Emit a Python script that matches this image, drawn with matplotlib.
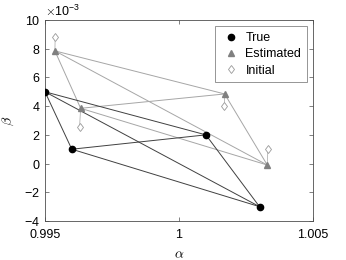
import itertools
import matplotlib
matplotlib.use("Agg")
import matplotlib.pyplot as plt
from matplotlib.ticker import ScalarFormatter, MultipleLocator

plt.rcParams['font.family'] = ['Liberation Sans', 'DejaVu Sans']
plt.rcParams['axes.unicode_minus'] = False
plt.rcParams['mathtext.fontset'] = 'cm'

true_alpha = [0.995, 0.996, 1.001, 1.003]
true_beta = [5.0e-3, 1.0e-3, 2.0e-3, -3.0e-3]
est_alpha = [0.99537, 0.99633, 1.0017, 1.00329]
est_beta = [7.85e-3, 3.85e-3, 4.85e-3, -0.1e-3]
init_alpha = [0.99538, 0.99629, 1.00169, 1.00331]
init_beta = [8.83e-3, 2.57e-3, 4.0e-3, 1.0e-3]

fig = plt.figure(figsize=(3.46, 2.6), dpi=100)
ax = fig.add_axes([0.130, 0.15, 0.775, 0.773])

# links between initial and estimated
for xa, ya, xb, yb in zip(init_alpha, init_beta, est_alpha, est_beta):
    ax.plot([xa, xb], [ya, yb], color='0.7', lw=0.6, zorder=1)

# complete graph of estimated points
for i, j in itertools.combinations(range(len(est_alpha)), 2):
    ax.plot([est_alpha[i], est_alpha[j]], [est_beta[i], est_beta[j]],
            color='0.65', lw=0.7, zorder=2)
# complete graph of true points
for i, j in itertools.combinations(range(len(true_alpha)), 2):
    ax.plot([true_alpha[i], true_alpha[j]], [true_beta[i], true_beta[j]],
            color='0.25', lw=0.7, zorder=3)

ax.plot(true_alpha, true_beta, 'o', color='black', ms=4.5, ls='none',
        label='True', zorder=5)
ax.plot(est_alpha, est_beta, '^', color='0.5', mec='0.5', ms=4.5, ls='none',
        label='Estimated', zorder=4)
ax.plot(init_alpha, init_beta, 'd', mfc='white', mec='0.6', mew=0.6, ms=4.5,
        ls='none', label='Initial', zorder=4)

ax.set_xlim(0.995, 1.005)
ax.set_ylim(-4e-3, 10e-3)
ax.xaxis.set_major_locator(MultipleLocator(0.005))
ax.yaxis.set_major_locator(MultipleLocator(2e-3))
ax.xaxis.set_major_formatter(plt.FuncFormatter(lambda v, p: f"{v:g}"))
fmt = ScalarFormatter(useMathText=True)
fmt.set_powerlimits((-3, -3))
ax.yaxis.set_major_formatter(fmt)
ax.yaxis.get_offset_text().set_fontsize(9)

ax.tick_params(direction='in', top=True, right=True, labelsize=9,
               length=3, width=0.5, color='0.3')
ax.tick_params(axis='x', pad=6)
for s in ax.spines.values():
    s.set_linewidth(0.6)
    s.set_color('0.3')

ax.set_xlabel(r'$\alpha$', fontsize=10, labelpad=4)
ax.set_ylabel(r'$\beta$', fontsize=10, labelpad=6)

leg = ax.legend(loc='upper right', fontsize=9, frameon=True, fancybox=False,
                handletextpad=0.3, borderpad=0.45, labelspacing=0.35,
                handlelength=1.7, borderaxespad=0.5)
leg.get_frame().set_edgecolor('0.4')
leg.get_frame().set_linewidth(0.6)

fig.savefig('out.png', dpi=100)
